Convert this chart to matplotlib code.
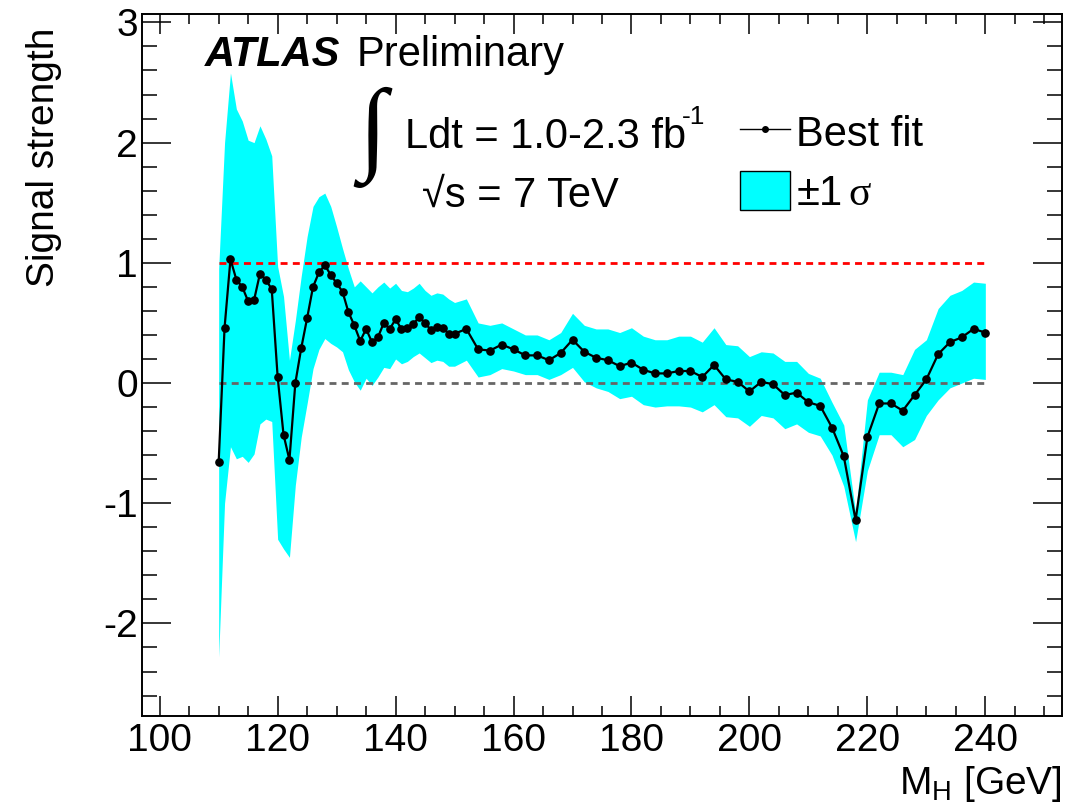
import matplotlib
matplotlib.use('Agg')
from matplotlib import pyplot as plt
from matplotlib.lines import Line2D
from matplotlib.patches import Patch
from matplotlib.ticker import MultipleLocator

plt.rcParams.update({
    "font.family": ['Liberation Sans', 'DejaVu Sans'],
    "mathtext.fontset": 'custom',
    "mathtext.rm": 'Liberation Sans',
    "mathtext.sf": 'Liberation Serif',
    "axes.unicode_minus": False,
    "axes.linewidth": 1.4,
})

# mass points [GeV]: 1 GeV steps up to 150, then 2 GeV steps
mass = [110, 111, 112, 113, 114, 115, 116, 117, 118, 119,
        120, 121, 122, 123, 124, 125, 126, 127, 128, 129,
        130, 131, 132, 133, 134, 135, 136, 137, 138, 139,
        140, 141, 142, 143, 144, 145, 146, 147, 148, 149,
        150, 152, 154, 156, 158, 160, 162, 164, 166, 168,
        170, 172, 174, 176, 178, 180, 182, 184, 186, 188,
        190, 192, 194, 196, 198, 200, 202, 204, 206, 208,
        210, 212, 214, 216, 218, 220, 222, 224, 226, 228,
        230, 232, 234, 236, 238, 240]

# best fit signal strength
mu = [-0.66, 0.46, 1.03, 0.86, 0.80, 0.68, 0.69, 0.91, 0.86, 0.78,
      0.05, -0.43, -0.64, 0.00, 0.29, 0.54, 0.80, 0.92, 0.98, 0.90,
      0.83, 0.76, 0.59, 0.48, 0.35, 0.45, 0.34, 0.38, 0.50, 0.45,
      0.53, 0.45, 0.46, 0.49, 0.55, 0.50, 0.44, 0.47, 0.46, 0.41,
      0.41, 0.45, 0.28, 0.27, 0.32, 0.28, 0.23, 0.23, 0.19, 0.25,
      0.36, 0.26, 0.21, 0.19, 0.14, 0.17, 0.11, 0.08, 0.08, 0.10,
      0.10, 0.05, 0.15, 0.03, 0.01, -0.07, 0.01, -0.01, -0.10, -0.08,
      -0.16, -0.19, -0.37, -0.61, -1.14, -0.45, -0.17, -0.17, -0.23, -0.10,
      0.03, 0.24, 0.34, 0.38, 0.45, 0.42]

# +1 sigma edge
mu_hi = [0.95, 2.00, 2.58, 2.28, 2.18, 2.02, 2.00, 2.14, 2.03, 1.89,
         0.97, 0.72, 0.19, 0.52, 0.89, 1.22, 1.47, 1.55, 1.58, 1.47,
         1.30, 1.12, 0.95, 0.80, 0.85, 0.80, 0.75, 0.80, 0.84, 0.79,
         0.83, 0.77, 0.76, 0.79, 0.83, 0.77, 0.73, 0.75, 0.74, 0.70,
         0.67, 0.70, 0.50, 0.48, 0.50, 0.45, 0.40, 0.40, 0.36, 0.42,
         0.58, 0.48, 0.45, 0.45, 0.42, 0.46, 0.39, 0.36, 0.36, 0.39,
         0.39, 0.34, 0.46, 0.32, 0.31, 0.22, 0.26, 0.25, 0.18, 0.18,
         0.08, 0.04, -0.16, -0.35, -1.08, -0.14, 0.09, 0.09, 0.07, 0.28,
         0.36, 0.62, 0.73, 0.77, 0.84, 0.83]

# -1 sigma edge
mu_lo = [-2.28, -1.00, -0.53, -0.63, -0.61, -0.66, -0.59, -0.34, -0.30, -0.32,
         -1.30, -1.38, -1.45, -0.85, -0.45, -0.17, 0.12, 0.28, 0.37, 0.33,
         0.30, 0.26, 0.11, 0.01, -0.06, 0.04, -0.02, 0.05, 0.13, 0.12,
         0.20, 0.16, 0.18, 0.22, 0.25, 0.21, 0.17, 0.19, 0.18, 0.14,
         0.14, 0.19, 0.05, 0.07, 0.12, 0.10, 0.07, 0.07, 0.03, 0.07,
         0.13, 0.01, -0.04, -0.07, -0.13, -0.11, -0.18, -0.20, -0.19, -0.19,
         -0.20, -0.24, -0.18, -0.28, -0.29, -0.36, -0.27, -0.29, -0.38, -0.34,
         -0.41, -0.44, -0.60, -0.86, -1.32, -0.73, -0.43, -0.43, -0.53, -0.47,
         -0.27, -0.14, -0.04, 0.00, 0.04, 0.03]

W, H = 1086, 807


def fpos(x, y):
    # pixel position -> figure fraction
    return x / W, 1 - y / H


fig = plt.figure(figsize=(W / 100, H / 100), dpi=100)
ax = fig.add_axes([142 / W, 1 - 716 / H, 920 / W, 702 / H])

ax.fill_between(mass, mu_lo, mu_hi, color='#00ffff', lw=0, zorder=1)
ax.hlines(1, mass[0], mass[-1], colors='#ff0000', linestyles=(0, (2.5, 1.9)),
          lw=2, zorder=2)
ax.hlines(0, mass[0], mass[-1], colors='#666666', linestyles=(0, (2.5, 1.9)),
          lw=2, zorder=2)
ax.plot(mass, mu, color='k', lw=1.6, marker='o', ms=5.2, zorder=3)

ax.set_xlim(97, 253)
ax.set_ylim(-2.77, 3.07)
ax.xaxis.set_major_locator(MultipleLocator(20))
ax.xaxis.set_minor_locator(MultipleLocator(5))
ax.yaxis.set_major_locator(MultipleLocator(1))
ax.yaxis.set_minor_locator(MultipleLocator(0.2))

ax.tick_params(which='both', direction='in', top=True, right=True,
               width=1.1, labelsize=28)
ax.tick_params(axis='x', which='major', length=14.4, pad=5)
ax.tick_params(axis='x', which='minor', length=7.2)
ax.tick_params(axis='y', which='major', length=20.9, pad=3)
ax.tick_params(axis='y', which='minor', length=10.8)

ax.set_xlabel('M$_{\\mathrm{H}}$ [GeV]', fontsize=28, loc='right')
ax.xaxis.set_label_coords(1.0, -0.068)
ax.set_ylabel('Signal strength', fontsize=28, loc='top')
ax.yaxis.set_label_coords(-0.087, 0.98)

# labels
fig.text(*fpos(205, 66), 'ATLAS', fontsize=30, fontweight='bold',
         style='italic', va='baseline')
fig.text(*fpos(357, 66), 'Preliminary', fontsize=30, va='baseline')
fig.text(*fpos(358, 160), '\u222b', fontsize=74, va='baseline',
         fontweight='bold', family=['Liberation Serif', 'DejaVu Serif'])
fig.text(*fpos(405, 148), 'Ldt = 1.0-2.3 fb', fontsize=30, va='baseline')
fig.text(*fpos(682, 124), '-1', fontsize=19, va='baseline')
fig.text(*fpos(422, 207), '\u221as = 7 TeV', fontsize=30, va='baseline')

handles = [Line2D([], [], color='k', lw=1, marker='o', ms=4),
           Patch(facecolor='#00ffff', edgecolor='k', lw=1)]
ax.legend(handles, ['Best fit', '\u00b11$\\,\\mathsf{\\sigma}$'],
          loc='upper left', bbox_to_anchor=fpos(740, 112),
          bbox_transform=fig.transFigure, frameon=False, fontsize=30,
          borderpad=0, borderaxespad=0, handlelength=1.2, handleheight=1.05,
          handletextpad=0.15, labelspacing=0.4)

fig.savefig('out.png', dpi=100)
